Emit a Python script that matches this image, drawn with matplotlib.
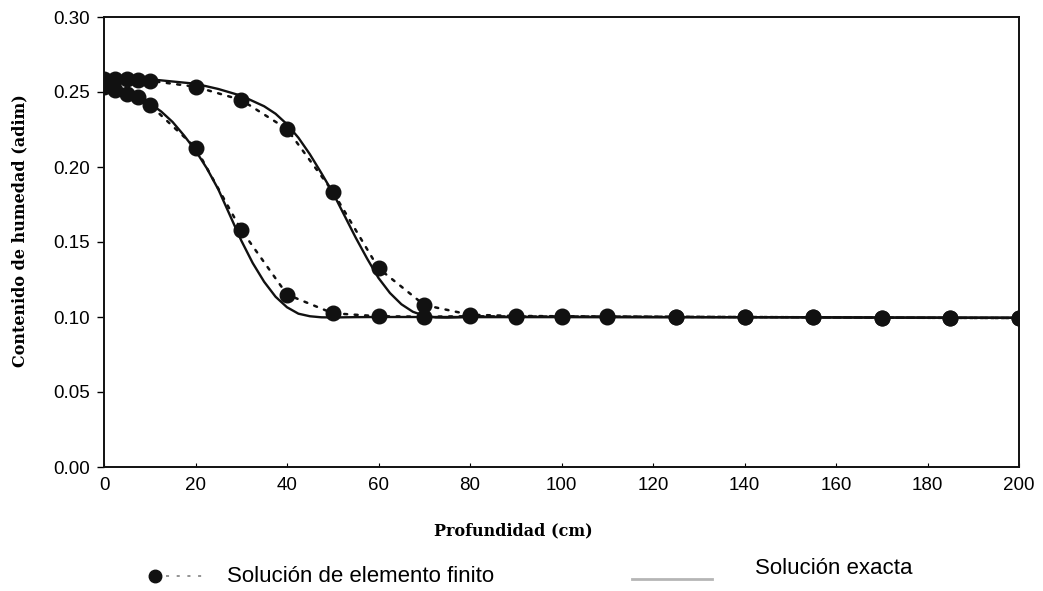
import matplotlib
matplotlib.use("Agg")
import matplotlib.pyplot as plt
from matplotlib.lines import Line2D

# Finite element solution (two times)
x_fe = [0, 2.5, 5, 7.5, 10, 20, 30, 40, 50, 60, 70, 80, 90, 100, 110, 125, 140, 155, 170, 185, 200]
fe_t1 = [0.2535, 0.2515, 0.249, 0.2465, 0.2415, 0.213, 0.158, 0.115, 0.1025, 0.1005, 0.1002, 0.1005, 0.1003,
         0.1003, 0.1003, 0.1001, 0.1000, 0.0998, 0.0996, 0.0994, 0.0993]
fe_t2 = [0.259, 0.259, 0.2585, 0.258, 0.2575, 0.2535, 0.2447, 0.2253, 0.1836, 0.1325, 0.1080, 0.1015, 0.1007,
         0.1005, 0.1004, 0.1002, 0.1000, 0.0998, 0.0996, 0.0994, 0.0993]

# Exact solution (two times)
x_ex1 = [0, 2.5, 5, 7.5, 10, 12.5, 15, 17.5, 20, 22.5, 25, 27.5, 30, 32.5, 35, 37.5, 40, 42.5, 45, 47.5,
         50, 55, 60, 70, 80, 100, 125, 150, 175, 200]
ex_t1 = [0.2545, 0.2525, 0.250, 0.247, 0.2425, 0.237, 0.230, 0.221, 0.211, 0.199, 0.185, 0.168, 0.151, 0.136,
         0.1235, 0.1135, 0.1065, 0.1022, 0.1005, 0.0998, 0.0997, 0.0999, 0.1000, 0.1000, 0.1000, 0.1000, 0.0999,
         0.0998, 0.0996, 0.0995]
x_ex2 = [0, 5, 10, 15, 20, 25, 30, 35, 37.5, 40, 42.5, 45, 47.5, 50, 52.5, 55, 57.5, 60, 62.5, 65, 67.5, 70,
         72.5, 75, 80, 100, 125, 150, 175, 200]
ex_t2 = [0.2595, 0.259, 0.2585, 0.257, 0.2555, 0.252, 0.2475, 0.2405, 0.2355, 0.2285, 0.2195, 0.2085, 0.196,
         0.183, 0.168, 0.153, 0.139, 0.126, 0.116, 0.1085, 0.1035, 0.1008, 0.0997, 0.0996, 0.1000, 0.1000,
         0.0999, 0.0998, 0.0996, 0.0995]

x_ticks = list(range(0, 201, 20))
y_ticks = [0.00, 0.05, 0.10, 0.15, 0.20, 0.25, 0.30]

W, H = 1043, 591
fig = plt.figure(figsize=(W / 100, H / 100), dpi=100)
ax = fig.add_axes([104 / W, 1 - 467 / H, (1019 - 104) / W, (467 - 17) / H])

dot_style = dict(color="#111111", lw=1.8, linestyle=(0, (1.2, 3.0)), dash_capstyle="round",
                 marker="o", ms=10.5, mfc="#111111", mec="#111111", zorder=3)
for y in (fe_t1, fe_t2):
    ax.plot(x_fe, y, **dot_style)
for xx, yy in ((x_ex1, ex_t1), (x_ex2, ex_t2)):
    ax.plot(xx, yy, color="#111111", lw=1.7, solid_joinstyle="round", zorder=4)

ax.set_xlim(0, 200)
ax.set_ylim(0, 0.30)
ax.set_xticks(x_ticks)
ax.set_yticks(y_ticks)
ax.set_yticklabels([f"{v:.2f}" for v in y_ticks])
ax.tick_params(axis="y", direction="out", length=5, width=1, pad=5, labelsize=13.5)
ax.tick_params(axis="x", direction="in", length=3, width=0.8, pad=7, labelsize=13.5)
for lab in ax.get_xticklabels() + ax.get_yticklabels():
    lab.set_fontfamily(["Liberation Sans", "DejaVu Sans"])
for s in ax.spines.values():
    s.set_linewidth(1.4)
    s.set_color("#111111")

fig.text(513 / W, 1 - 531 / H, "Profundidad (cm)", family=["DejaVu Serif"], fontweight="bold",
         fontsize=11.5, ha="center", va="center")
fig.text(20 / W, 1 - 231 / H, "Contenido de humedad (adim)", family=["DejaVu Serif"], fontweight="bold",
         fontsize=11.5, ha="center", va="center", rotation=90)

# Legend drawn below the plot
tf = fig.transFigure
fig.add_artist(Line2D([155 / W], [1 - 576 / H], marker="o", ms=9, color="#111111", transform=tf))
fig.add_artist(Line2D([166 / W, 204 / W], [1 - 576 / H, 1 - 576 / H], color="#777777", lw=1.1,
                      linestyle=(0, (2, 5)), transform=tf))
fig.text(227 / W, 1 - 576 / H, "Solución de elemento finito", family=["Liberation Sans", "DejaVu Sans"],
         fontsize=16, va="center", ha="left")
fig.add_artist(Line2D([632 / W, 712 / W], [1 - 579 / H, 1 - 579 / H], color="#b5b5b5", lw=2, transform=tf))
fig.text(755 / W, 1 - 569 / H, "Solución exacta", family=["Liberation Sans", "DejaVu Sans"],
         fontsize=16, va="center", ha="left")

fig.savefig("out.png", dpi=100)
